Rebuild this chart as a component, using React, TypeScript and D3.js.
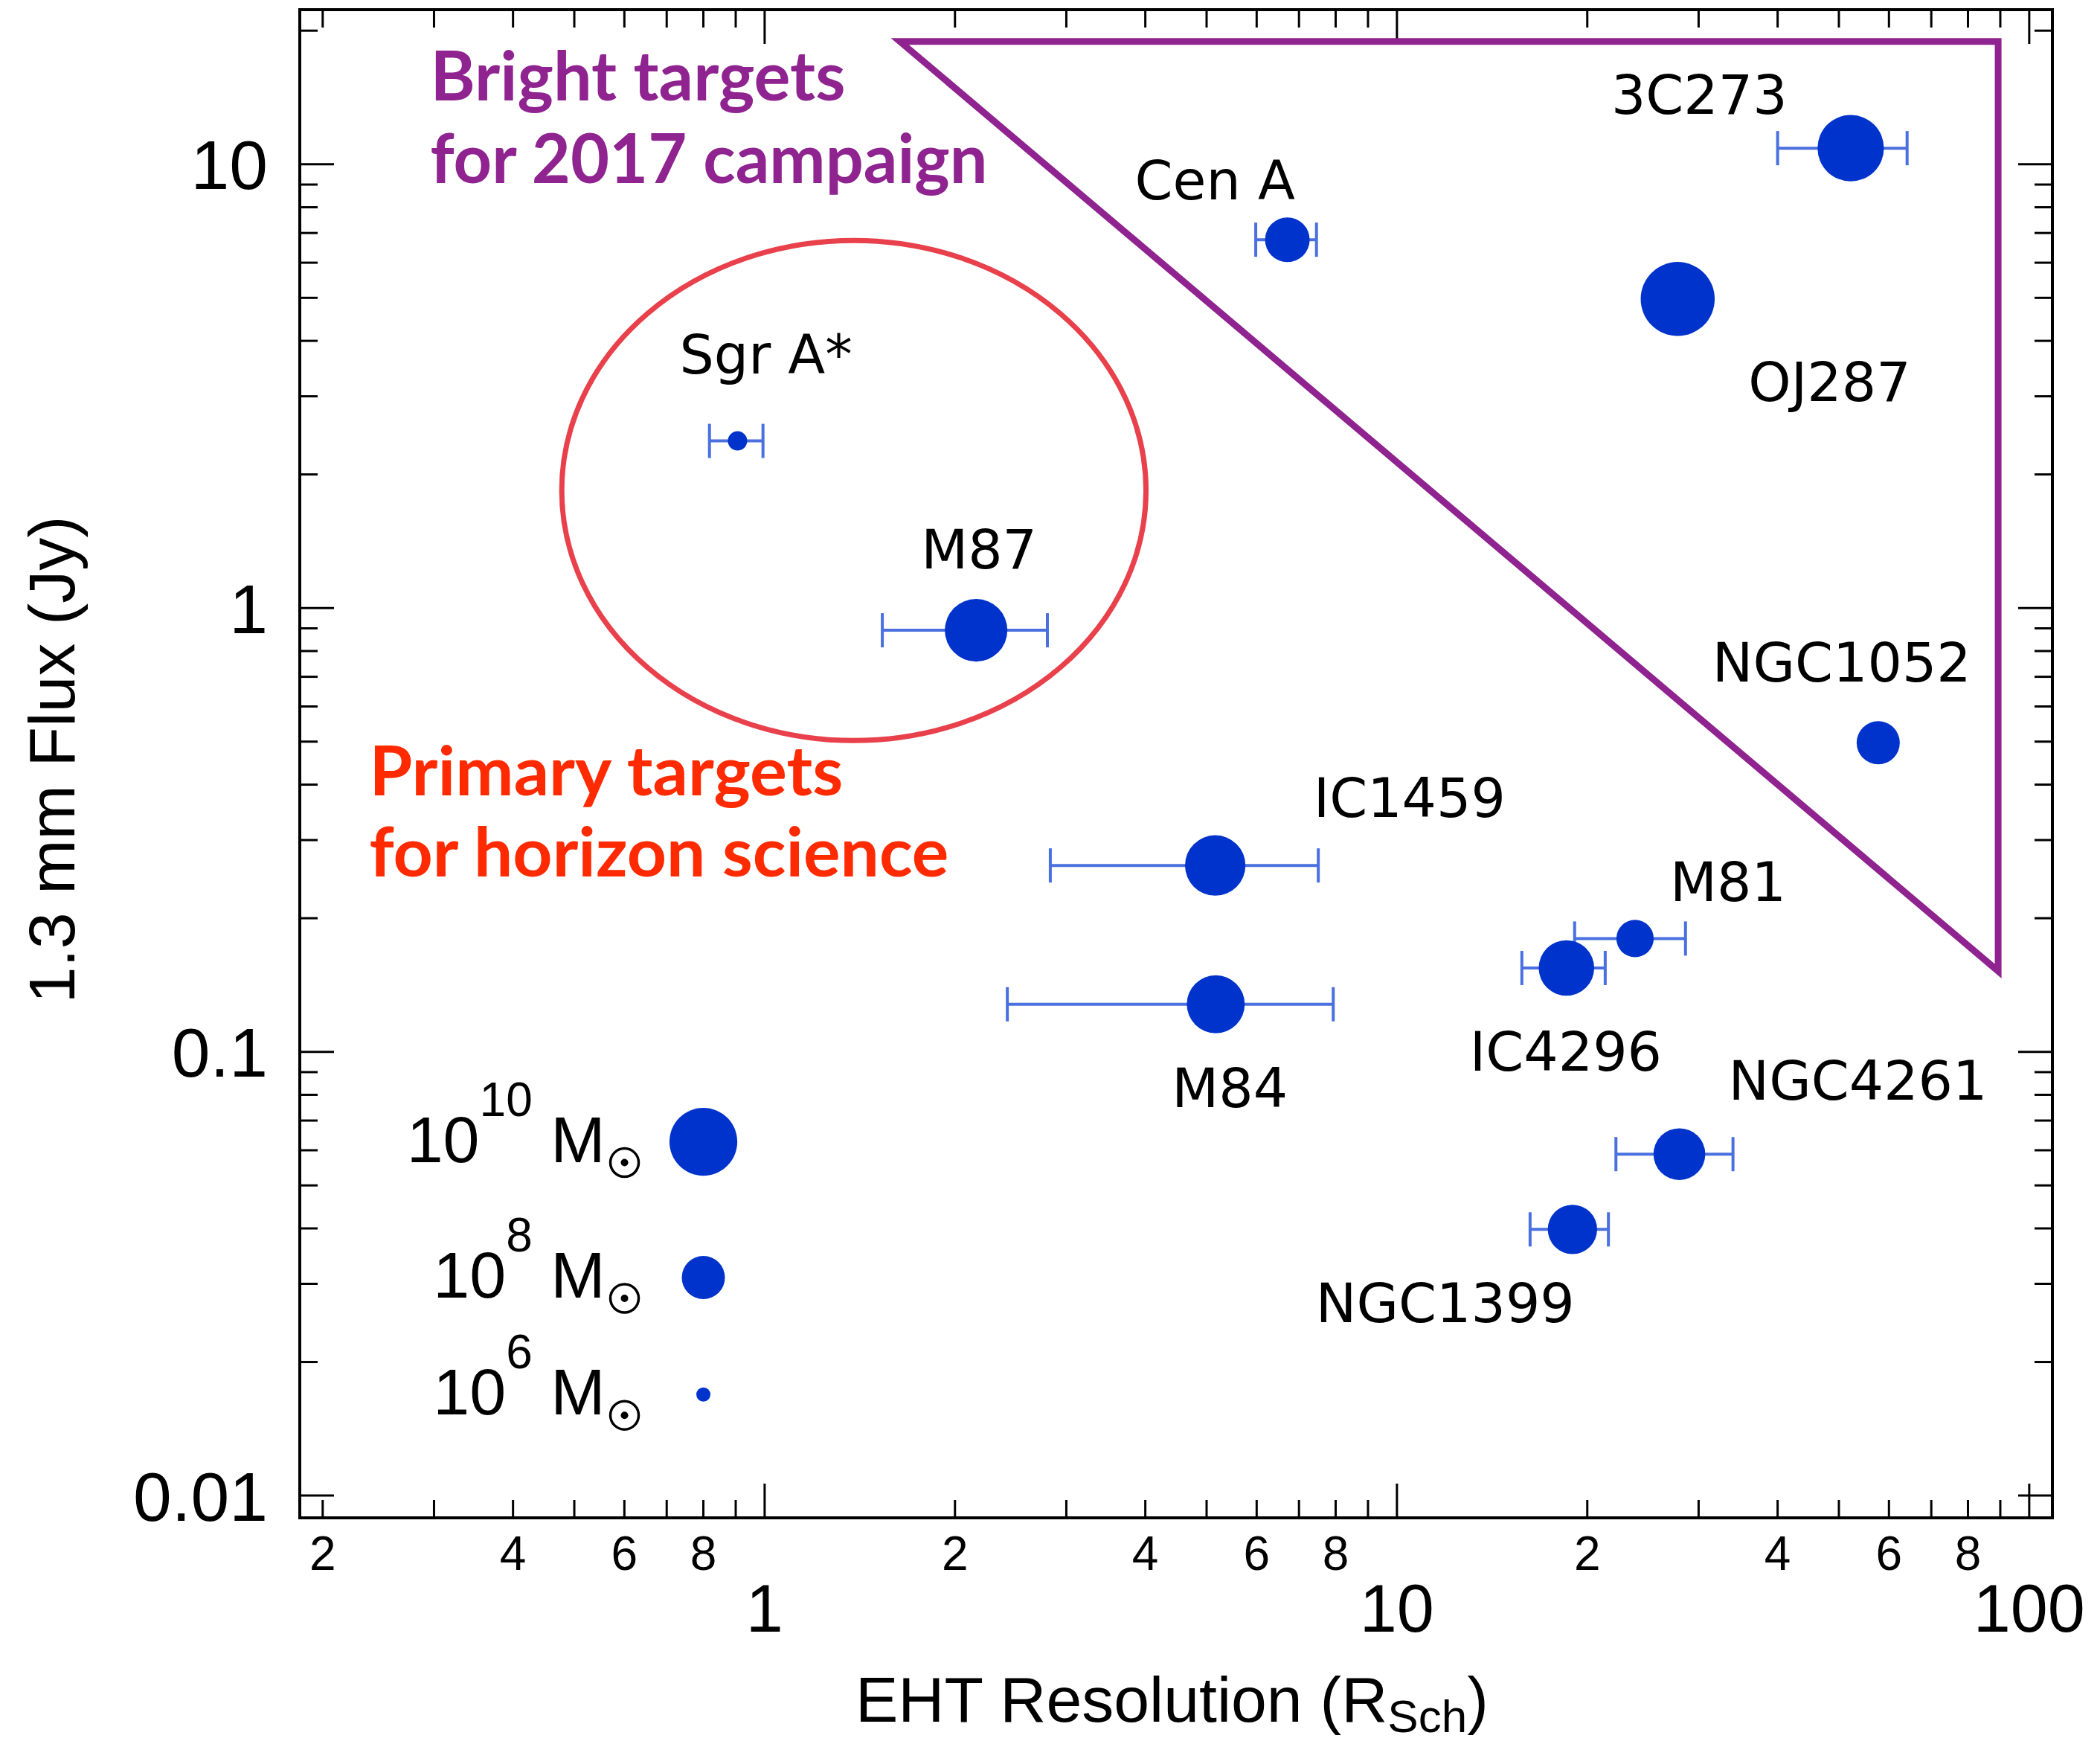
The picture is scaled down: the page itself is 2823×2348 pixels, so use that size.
import React from "react";
import * as d3 from "d3";

// ---- data ----
const sources = ["Sgr A*", "M87", "Cen A", "3C273", "OJ287", "NGC1052", "IC1459", "M84", "M81", "IC4296", "NGC4261", "NGC1399"];
const resolution = [0.906, 2.16, 6.71, 52.2, 27.8, 57.7, 5.16, 5.17, 23.8, 18.54, 27.97, 18.95]; // R_Sch
const resLow = [0.818, 1.535, 5.98, 40.0, null, null, 2.83, 2.42, 19.1, 15.76, 22.2, 16.24];
const resHigh = [0.994, 2.8, 7.46, 64.1, null, null, 7.51, 7.93, 28.6, 21.35, 34.0, 21.6];
const flux = [2.38, 0.891, 6.76, 10.87, 4.97, 0.497, 0.263, 0.128, 0.18, 0.1545, 0.0588, 0.0398]; // Jy
const logMass = [6.36, 9.57, 8.12, 9.88, 10.5, 8.0, 9.4, 9.2, 7.6, 9.0, 8.7, 8.5];

const legendLogMass = [10, 8, 6];
const legendFlux = [0.0627, 0.031, 0.0169];
const legendRes = 0.8;

const xMajorTicks = [1, 10, 100];
const xMajorLabels = ["1", "10", "100"];
const xMinorLabels = [2, 4, 6, 8];
const yMajorTicks = [0.01, 0.1, 1, 10];
const yMajorLabels = ["0.01", "0.1", "1", "10"];

// annotation shapes, in data units
const brightTriangle = [[1.637, 18.9], [89.3, 18.9], [89.3, 0.152]];
const primaryEllipse = { res: 1.384, flux: 1.84, decadesX: 0.462, decadesY: 0.5635 };

// ---- layout ----
const W = 2823;
const H = 2348;
const frame = { left: 403, right: 2759, top: 13, bottom: 2040 };
const majorLen = 46;
const minorLen = 24;

// label offsets from the marker centre (px)
const labelOffset: Record<string, [number, number]> = {
  "Sgr A*": [-78, -91],
  M87: [-74, -83],
  "Cen A": [-205, -54],
  "3C273": [-322, -46],
  OJ287: [95, 137],
  NGC1052: [-223, -82],
  IC1459: [132, -65],
  M84: [-59, 138],
  M81: [47, -50],
  IC4296: [-130, 138],
  NGC4261: [66, -73],
  NGC1399: [-345, 125],
};

const AXIS_FONT = "'Liberation Sans', Arial, sans-serif";
const LABEL_FONT = "'DejaVu Sans', Verdana, sans-serif";
const NOTE_FONT = "Lato, 'Open Sans', sans-serif";
const BLUE = "#0033cc";
const ERR_BLUE = "#4a70e0";
const PURPLE = "#8f238f";
const RED_TEXT = "#ff2a00";
const RED_RING = "#e8414b";

export default function App() {
  const x = d3.scaleLog().domain([0.184, 108.8]).range([frame.left, frame.right]);
  const y = d3.scaleLog().domain([0.00891, 22.3]).range([frame.bottom, frame.top]);
  const r = d3.scaleLinear().domain([6, 8, 10]).range([9.5, 29, 45.6]);

  const isMajor = (t: number) => Math.abs(Math.log10(t) - Math.round(Math.log10(t))) < 1e-6;
  const xTicks = x.ticks();
  const yTicks = y.ticks().filter((t) => t >= 0.01);

  const points = sources.map((name, i) => ({
    name,
    cx: x(resolution[i]),
    cy: y(flux[i]),
    lo: resLow[i] != null ? x(resLow[i] as number) : null,
    hi: resHigh[i] != null ? x(resHigh[i] as number) : null,
    r: r(logMass[i]),
  }));

  const tri = d3.line<number[]>().x((d) => x(d[0])).y((d) => y(d[1]))(brightTriangle) + "Z";
  const ecx = x(primaryEllipse.res);
  const ecy = y(primaryEllipse.flux);
  const erx = x(primaryEllipse.res * Math.pow(10, primaryEllipse.decadesX)) - ecx;
  const ery = ecy - y(primaryEllipse.flux * Math.pow(10, primaryEllipse.decadesY));

  const decades = [0.1, 1, 10];

  return (
    <svg
      width={W}
      height={H}
      viewBox={`0 0 ${W} ${H}`}
      style={{ position: "absolute", left: 0, top: 0, background: "#fff" }}
    >
      <rect x={0} y={0} width={W} height={H} fill="#fff" />

      {/* ticks, inward on all four sides */}
      <g stroke="#000" strokeWidth={3}>
        {xTicks.map((t, i) => {
          const len = isMajor(t) ? majorLen : minorLen;
          return (
            <g key={"xt" + i}>
              <line x1={x(t)} x2={x(t)} y1={frame.bottom} y2={frame.bottom - len} />
              <line x1={x(t)} x2={x(t)} y1={frame.top} y2={frame.top + len} />
            </g>
          );
        })}
        {yTicks.map((t, i) => {
          const len = isMajor(t) ? majorLen : minorLen;
          return (
            <g key={"yt" + i}>
              <line x1={frame.left} x2={frame.left + len} y1={y(t)} y2={y(t)} />
              <line x1={frame.right} x2={frame.right - len} y1={y(t)} y2={y(t)} />
            </g>
          );
        })}
      </g>

      {/* annotations */}
      <path d={tri} fill="none" stroke={PURPLE} strokeWidth={9} strokeLinejoin="miter" />
      <ellipse cx={ecx} cy={ecy} rx={erx} ry={ery} fill="none" stroke={RED_RING} strokeWidth={7} />

      <g fontFamily={NOTE_FONT} fontWeight={700} fontSize={92}>
        <text x={x(0.296)} y={y(13.9)} fill={PURPLE} textLength={558} lengthAdjust="spacingAndGlyphs">
          Bright targets
        </text>
        <text x={x(0.296)} y={y(9.07)} fill={PURPLE} textLength={749} lengthAdjust="spacingAndGlyphs">
          for 2017 campaign
        </text>
        <text x={x(0.237)} y={y(0.378)} fill={RED_TEXT} textLength={637} lengthAdjust="spacingAndGlyphs">
          Primary targets
        </text>
        <text x={x(0.237)} y={y(0.248)} fill={RED_TEXT} textLength={779} lengthAdjust="spacingAndGlyphs">
          for horizon science
        </text>
      </g>

      {/* error bars */}
      <g stroke={ERR_BLUE} strokeWidth={4}>
        {points
          .filter((p) => p.lo != null && p.hi != null)
          .map((p) => (
            <g key={"e" + p.name}>
              <line x1={p.lo as number} x2={p.hi as number} y1={p.cy} y2={p.cy} />
              <line x1={p.lo as number} x2={p.lo as number} y1={p.cy - 23} y2={p.cy + 23} />
              <line x1={p.hi as number} x2={p.hi as number} y1={p.cy - 23} y2={p.cy + 23} />
            </g>
          ))}
      </g>

      {/* markers */}
      <g fill={BLUE}>
        {points.map((p) => (
          <circle key={"c" + p.name} cx={p.cx} cy={p.cy} r={p.r} />
        ))}
      </g>

      {/* point labels */}
      <g fontFamily={LABEL_FONT} fontSize={73} fill="#000">
        {points.map((p) => {
          const [dx, dy] = labelOffset[p.name];
          return (
            <text key={"l" + p.name} x={p.cx + dx} y={p.cy + dy}>
              {p.name}
            </text>
          );
        })}
      </g>

      {/* mass legend */}
      {legendLogMass.map((m, i) => {
        const mx = x(legendRes);
        const my = y(legendFlux[i]);
        const sunX = mx - 106;
        const sunY = my + 28;
        return (
          <g key={"lg" + m}>
            <circle cx={mx} cy={my} r={r(m)} fill={BLUE} />
            <text
              x={sunX - 26}
              y={my + 27}
              textAnchor="end"
              fontFamily={AXIS_FONT}
              fontSize={88}
              fill="#000"
            >
              10
              <tspan fontSize={64} dy={-62}>
                {String(m)}
              </tspan>
              <tspan dy={62}> M</tspan>
            </text>
            <circle cx={sunX} cy={sunY} r={19} fill="none" stroke="#000" strokeWidth={3.5} />
            <circle cx={sunX} cy={sunY} r={5} fill="#000" />
          </g>
        );
      })}

      {/* frame */}
      <rect
        x={frame.left}
        y={frame.top}
        width={frame.right - frame.left}
        height={frame.bottom - frame.top}
        fill="none"
        stroke="#000"
        strokeWidth={4}
      />

      {/* x tick labels */}
      <g fontFamily={AXIS_FONT} fill="#000" textAnchor="middle">
        {decades.flatMap((base) =>
          xMinorLabels.map((k) => (
            <text key={"xm" + base + k} x={x(k * base)} y={2110} fontSize={64}>
              {String(k)}
            </text>
          ))
        )}
        {xMajorTicks.map((t, i) => (
          <text key={"xM" + t} x={x(t)} y={2193} fontSize={90}>
            {xMajorLabels[i]}
          </text>
        ))}
      </g>

      {/* y tick labels */}
      <g fontFamily={AXIS_FONT} fill="#000" textAnchor="end" fontSize={93}>
        {yMajorTicks.map((t, i) => (
          <text key={"yM" + t} x={360} y={y(t)} dy="0.36em">
            {yMajorLabels[i]}
          </text>
        ))}
      </g>

      {/* axis titles */}
      <text x={1150} y={2314} fontFamily={AXIS_FONT} fontSize={86} fill="#000">
        EHT Resolution (R
        <tspan fontSize={62} dy={14}>
          Sch
        </tspan>
        <tspan dy={-14}>)</tspan>
      </text>
      <text
        transform="translate(100,1021) rotate(-90)"
        textAnchor="middle"
        fontFamily={AXIS_FONT}
        fontSize={88}
        fill="#000"
      >
        1.3 mm Flux (Jy)
      </text>
    </svg>
  );
}
